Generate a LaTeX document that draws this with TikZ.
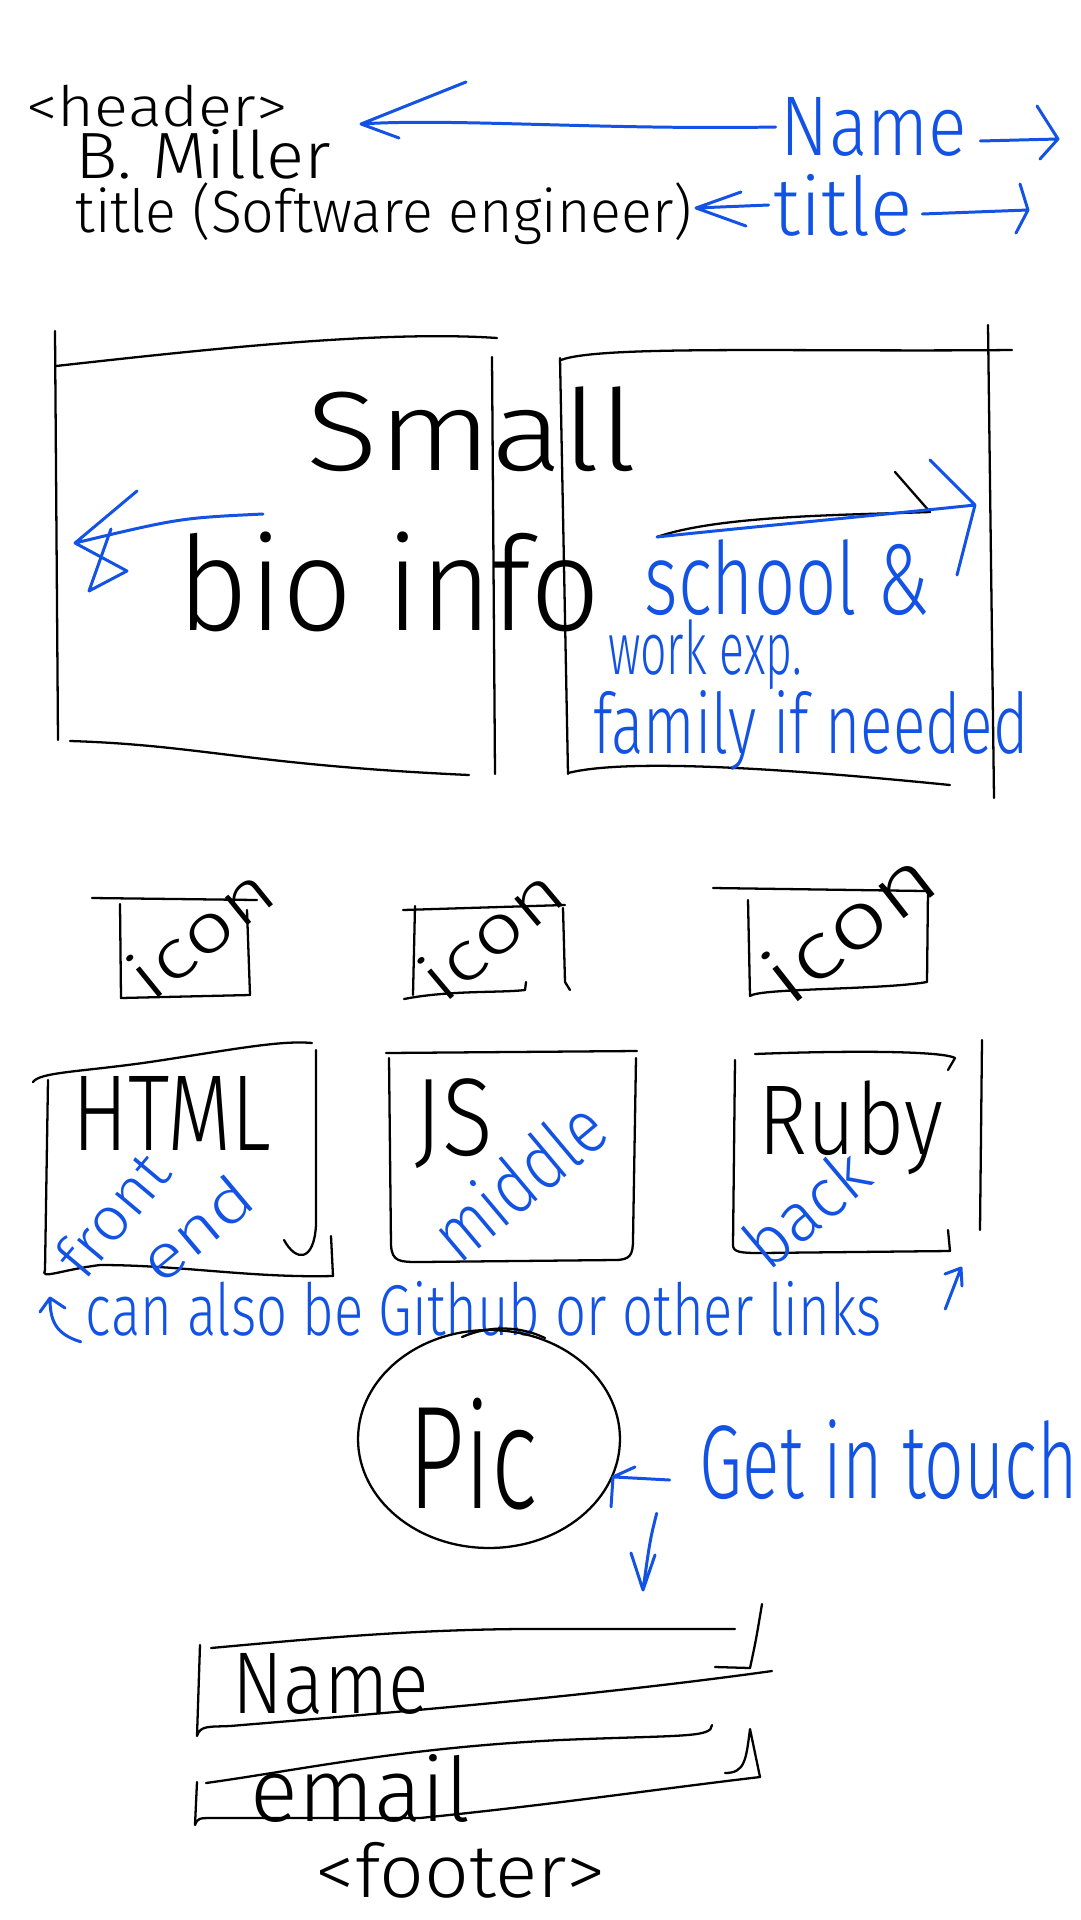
\documentclass[tikz,border=0pt]{standalone}
\usepackage{fontspec}
\newfontfamily\hand{Fira Sans}[UprightFont=* Light]
\usetikzlibrary{arrows.meta,calc,shapes.geometric}
\definecolor{penblue}{RGB}{18,82,228}
\newlength\pxu \setlength\pxu{0.02cm}
\newcommand\hw[3]{\resizebox*{#1\pxu}{#2\pxu}{\hand #3}}
\begin{document}
\begin{tikzpicture}[x=0.02cm,y=-0.02cm,
 ink/.style={line width=1.3pt,line cap=round,line join=round,draw=black},
 bink/.style={line width=1.7pt,line cap=round,line join=round,draw=penblue},
 txt/.style={inner sep=0pt,outer sep=3pt,text=black},
 btxt/.style={inner sep=0pt,outer sep=3pt,text=penblue}]
\fill[white] (0,0) rectangle (1080,1920);
\useasboundingbox (0,0) rectangle (1080,1920);

% ---------- header ----------
\node[txt] (hdr) at (157,106) {\hw{261}{42}{<header>}};
\node[txt] (bmiller) at (203,154) {\hw{255}{50}{B. Miller}};
\node[txt] (titleline) at (384,214) {\hw{616}{62}{title (Software engineer)}};
\node[btxt] (nameNote) at (874,127) {\hw{186}{59}{Name}};
\node[btxt] (titleNote) at (843,205) {\hw{138}{62}{title}};

\coordinate (nameTip) at (361,124);
\draw[bink] (nameNote.west) .. controls (600,130) and (450,118) .. (nameTip) -- ++(105,-42) (nameTip) -- ++(38,14);
\coordinate (titleTip) at (696,208);
\draw[bink] (titleNote.west) -- (titleTip) -- ++(45,-16) (titleTip) -- ++(50,18);
\coordinate (nameEnd) at (1058,139);
\draw[bink] ($(nameNote.east)+(8,14)$) -- (nameEnd) -- ++(-21,-33) (nameEnd) -- ++(-18,20);
\coordinate (titleEnd) at (1028,210);
\draw[bink] ($(titleNote.east)+(5,9)$) -- (titleEnd) -- ++(-8,-26) (titleEnd) -- ++(-12,23);

% ---------- bio boxes ----------
\draw[ink] (55,331) -- (58,740);
\draw[ink] (56,366) .. controls (200,350) and (380,330) .. (497,338);
\draw[ink] (70,741) .. controls (200,745) and (250,765) .. (469,775);
\draw[ink] (492,357) -- (495,774);
\draw[ink] (560,358) -- (568,774);
\draw[ink] (561,360) .. controls (600,345) and (800,352) .. (1012,350);
\draw[ink] (988,325) -- (994,798);
\draw[ink] (568,773) .. controls (620,760) and (750,765) .. (950,785);

\node[txt] (small) at (472,429) {\hw{331}{85}{Small}};
\node[txt] (bioinfo) at (389,582) {\hw{422}{100}{bio info}};

\coordinate (bioArrowStart) at (263,514);
\coordinate (bioArrowTip) at (75,543);
\draw[bink] (bioArrowStart) .. controls (180,518) .. (bioArrowTip) -- ++(62,-52) (bioArrowTip) -- ++(52,28) -- ++(-38,20) -- ++(22,-62);

\coordinate (schoolStart) at (657,537);
\coordinate (schoolTip) at (975,505);
\draw[ink] (schoolStart) .. controls (720,515) and (850,515) .. (930,512) -- ++(-35,-40);
\draw[bink] (schoolStart) .. controls (750,527) and (880,515) .. (schoolTip) -- ++(-45,-45) (schoolTip) -- ++(-18,70);

\node[btxt] (school) at (787,578) {\hw{285}{76}{school \&}};
\node[btxt] (workexp) at (705,655) {\hw{194}{70}{work exp.}};
\node[btxt] (family) at (811,731) {\hw{435}{80}{family if needed}};

% ---------- icons ----------
\draw[ink] (92,898) -- (257,900);
\draw[ink] (120,904) -- (121,998) -- (250,995) -- (247,910);
\node[txt,rotate=39] (icon1) at (200,932) {\hw{165}{52}{icon}};

\draw[ink] (403,910) -- (565,905);
\draw[ink] (415,906) -- (413,995);
\draw[ink] (404,999) .. controls (450,990) and (500,993) .. (525,990) -- (526,982);
\draw[ink] (563,908) -- (565,982) -- (570,990);
\node[txt,rotate=40] (icon2) at (490,933) {\hw{165}{52}{icon}};

\draw[ink] (713,888) -- (925,891);
\draw[ink] (748,900) -- (750,996) .. controls (760,988) and (880,990) .. (927,982) -- (928,890);
\node[txt,rotate=38] (icon3) at (848,925) {\hw{195}{60}{icon}};

% ---------- tech boxes ----------
\draw[ink] (33,1082) .. controls (40,1072) and (80,1072) .. (150,1062) .. controls (230,1050) and (280,1040) .. (312,1043);
\draw[ink] (48,1080) -- (45,1270) .. controls (40,1280) and (60,1270) .. (100,1265) .. controls (180,1265) and (250,1278) .. (333,1276) -- (331,1236);
\draw[ink] (316,1050) -- (316,1225) .. controls (314,1262) and (296,1262) .. (284,1240);
\node[txt] (html) at (172,1113) {\hw{199}{74}{HTML}};
\node[btxt,rotate=50] (front) at (112,1214) {\hw{140}{46}{front}};
\node[btxt,rotate=40] (endtxt) at (196,1228) {\hw{128}{46}{end}};

\draw[ink] (386,1053) -- (637,1051);
\draw[ink] (389,1058) -- (391,1245) .. controls (392,1262) and (400,1262) .. (420,1262) -- (615,1260) .. controls (630,1260) and (633,1255) .. (633,1240) -- (636,1058);
\node[txt] (js) at (454,1124) {\hw{78}{90}{JS}};
\node[btxt,rotate=40] (middle) at (518,1180) {\hw{200}{58}{middle}};

\draw[ink] (755,1054) .. controls (830,1051) and (940,1050) .. (955,1058) -- (948,1070);
\draw[ink] (735,1060) -- (733,1245) .. controls (733,1252) and (740,1253) .. (760,1253) -- (950,1251) -- (948,1230);
\draw[ink] (982,1040) -- (980,1230);
\node[txt] (ruby) at (851,1128) {\hw{184}{94}{Ruby}};
\node[btxt,rotate=40] (back) at (806,1208) {\hw{140}{52}{back}};

\node[btxt] (links) at (484,1309) {\hw{796}{55}{can also be Github or other links}};
\coordinate (linksTipL) at (50,1298);
\draw[bink] (links.south west) .. controls (55,1334) and (50,1320) .. (linksTipL) -- ++(-10,14) (linksTipL) -- ++(15,10);
\coordinate (linksTipR) at (961,1268);
\draw[bink] ($(links.east)+(58,0)$) -- (linksTipR) -- ++(-16,6) (linksTipR) -- ++(1,18);

% ---------- pic ----------
\node[ink,draw,ellipse,minimum width=5.24cm,minimum height=4.36cm,inner sep=0pt] (pic) at (489,1439) {};
\draw[ink] (462,1337) .. controls (490,1325) and (520,1326) .. (545,1338);
\node[txt] (pictxt) at (473,1454) {\hw{129}{112}{Pic}};

\node[btxt] (touch) at (889,1460) {\hw{378}{80}{Get in touch}};
\draw[bink] ($(touch.west)+(-25,20)$) -- (pic.-17) -- ++(22,-10) (pic.-17) -- ++(-2,30);
\coordinate (downTip) at (643,1590);
\draw[bink] ($(touch.south west)+(-38,8)$) .. controls (650,1540) .. (downTip) -- ++(-12,-37) (downTip) -- ++(12,-35);

% ---------- form ----------
\draw[ink] (211,1648) .. controls (300,1640) and (400,1630) .. (520,1629) -- (735,1629);
\draw[ink] (200,1645) -- (197,1736) .. controls (200,1725) and (210,1727) .. (230,1726) .. controls (400,1712) and (600,1695) .. (772,1671);
\draw[ink] (715,1667) -- (750,1668) .. controls (756,1640) .. (762,1604);
\node[txt] (nameField) at (331,1684) {\hw{196}{61}{Name}};

\draw[ink] (206,1783) .. controls (300,1770) and (400,1748) .. (560,1740) .. controls (680,1735) and (712,1738) .. (712,1725);
\draw[ink] (197,1782) -- (195,1825) .. controls (198,1818) .. (215,1818) -- (420,1818) .. controls (550,1805) and (650,1790) .. (760,1777);
\draw[ink] (725,1773) .. controls (745,1773) and (746,1760) .. (750,1729) -- (760,1777);
\node[txt] (emailField) at (361,1788) {\hw{220}{68}{email}};

\node[txt] (footer) at (461,1870) {\hw{290}{56}{<footer>}};
\end{tikzpicture}
\end{document}
